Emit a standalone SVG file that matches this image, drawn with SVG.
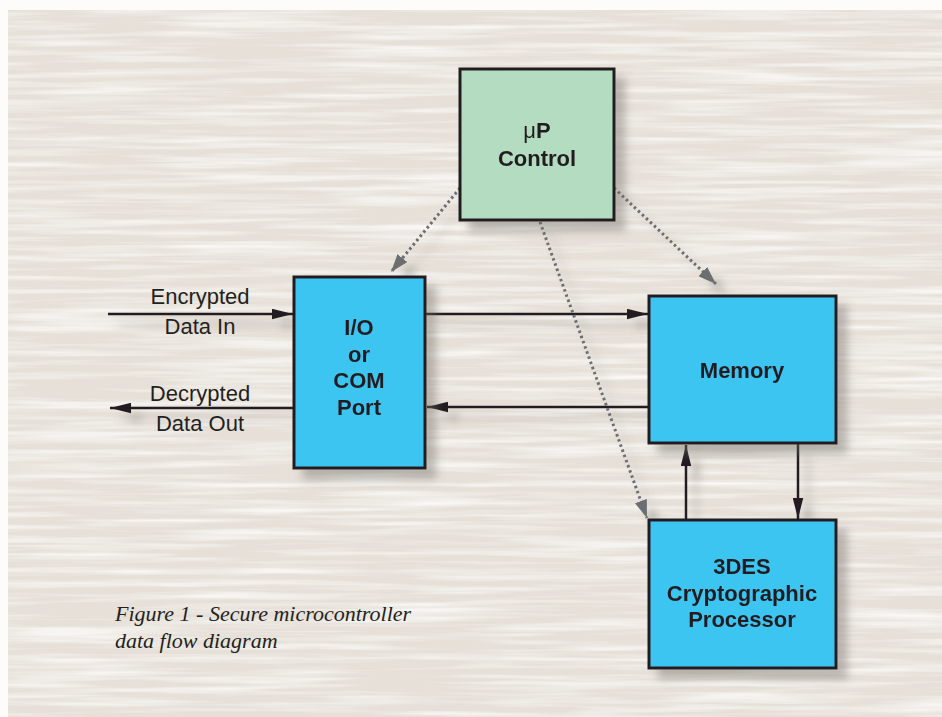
<svg xmlns="http://www.w3.org/2000/svg" width="942" height="717" viewBox="0 0 942 717">
<defs>
<filter id="tex" x="0" y="0" width="100%" height="100%">
<feTurbulence type="fractalNoise" baseFrequency="0.006 0.16" numOctaves="3" seed="7" result="n"/>
<feColorMatrix in="n" type="matrix" values="0 0 0 0 1  0 0 0 0 1  0 0 0 0 1  0 0 0 -1.6 0.95" result="w"/>
<feComposite in="w" in2="SourceGraphic" operator="in" result="wc"/>
<feMerge><feMergeNode in="SourceGraphic"/><feMergeNode in="wc"/></feMerge>
</filter>
<filter id="sh" x="-20%" y="-20%" width="150%" height="150%">
<feGaussianBlur in="SourceAlpha" stdDeviation="4"/>
<feOffset dx="10" dy="10" result="b"/>
<feFlood flood-color="#6e6a66" flood-opacity="0.4"/>
<feComposite in2="b" operator="in" result="s"/>
<feMerge><feMergeNode in="s"/><feMergeNode in="SourceGraphic"/></feMerge>
</filter>
<marker id="ah" viewBox="0 0 20 10" refX="20" refY="5" markerWidth="21" markerHeight="11" markerUnits="userSpaceOnUse" orient="auto">
<path d="M0,0 L20,5 L0,10 Z" fill="#231f20"/>
</marker>
<marker id="ag" viewBox="0 0 20 14" refX="20" refY="7" markerWidth="18" markerHeight="13" markerUnits="userSpaceOnUse" orient="auto">
<path d="M0,0 L20,7 L0,14 Z" fill="#6d6e71"/>
</marker>
</defs>
<style>
.box{stroke:#231f20;stroke-width:3}
.green{fill:#b3dcc0}
.blue{fill:#3ec5f2}
.bt{font-family:"Liberation Sans",Arial,sans-serif;font-weight:bold;font-size:22px;fill:#231f20;text-anchor:middle}
.lt{font-family:"Liberation Sans",Arial,sans-serif;font-size:22px;fill:#231f20;text-anchor:middle}
.cap{font-family:"Liberation Serif","Times New Roman",serif;font-style:italic;font-size:22px;fill:#231f20}
.ln{stroke:#231f20;stroke-width:2.5;fill:none;marker-end:url(#ah)}
.dot{stroke:#6d6e71;stroke-width:3;stroke-dasharray:2.5 3;fill:none;marker-end:url(#ag)}
</style>
<rect width="942" height="717" fill="#fdfcfa"/>
<rect x="8" y="10" width="934" height="707" fill="#e6e0d8" filter="url(#tex)"/>

<g id="connectors" filter="url(#sh)">
<line class="ln" x1="108" y1="314" x2="293" y2="314"/>
<line class="ln" x1="294" y1="408" x2="110" y2="408"/>
<line class="ln" x1="426" y1="314" x2="648" y2="314"/>
<line class="ln" x1="649" y1="407" x2="427" y2="407"/>
<line class="ln" x1="798" y1="444" x2="798" y2="519"/>
<line class="ln" x1="686" y1="520" x2="686" y2="445"/>
<line class="dot" x1="460" y1="188" x2="391" y2="272"/>
<line class="dot" x1="614" y1="188" x2="716" y2="284"/>
<line class="dot" x1="540" y1="222" x2="647" y2="518"/>
</g>

<g id="ctrl" filter="url(#sh)">
<rect class="box green" x="460" y="69" width="154" height="151"/>
<text class="bt" x="537" y="138"><tspan font-weight="normal">μ</tspan>P</text>
<text class="bt" x="537" y="166">Control</text>
</g>

<g id="io" filter="url(#sh)">
<rect class="box blue" x="294" y="277" width="131" height="191"/>
<text class="bt" x="359" y="335">I/O</text>
<text class="bt" x="359" y="362">or</text>
<text class="bt" x="359" y="388">COM</text>
<text class="bt" x="359" y="415">Port</text>
</g>

<g id="memory" filter="url(#sh)">
<rect class="box blue" x="649" y="296" width="187" height="147"/>
<text class="bt" x="742" y="378">Memory</text>
</g>

<g id="des" filter="url(#sh)">
<rect class="box blue" x="649" y="520" width="187" height="148"/>
<text class="bt" x="742" y="574">3DES</text>
<text class="bt" x="742" y="601">Cryptographic</text>
<text class="bt" x="742" y="627">Processor</text>
</g>

<g id="labels">
<text class="lt" x="200" y="304">Encrypted</text>
<text class="lt" x="200" y="334">Data In</text>
<text class="lt" x="200" y="401">Decrypted</text>
<text class="lt" x="200" y="431">Data Out</text>
</g>

<g id="caption">
<text class="cap" x="115" y="621">Figure 1 - Secure microcontroller</text>
<text class="cap" x="115" y="648">data flow diagram</text>
</g>
</svg>
